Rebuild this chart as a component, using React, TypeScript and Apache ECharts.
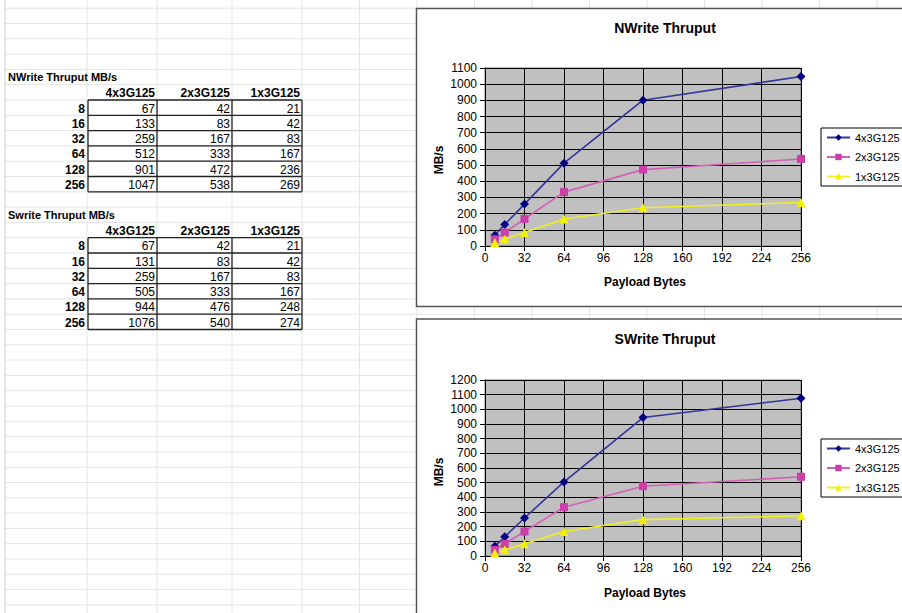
import React, { useEffect, useRef } from "react";
import * as echarts from "echarts";

// ---- data ----
const payloadBytes = [8, 16, 32, 64, 128, 256];
const seriesNames = ["4x3G125", "2x3G125", "1x3G125"];
const nwrite4x = [67, 133, 259, 512, 901, 1047];
const nwrite2x = [42, 83, 167, 333, 472, 538];
const nwrite1x = [21, 42, 83, 167, 236, 269];
const swrite4x = [67, 131, 259, 505, 944, 1076];
const swrite2x = [42, 83, 167, 333, 476, 540];
const swrite1x = [21, 42, 83, 167, 248, 274];
const nwriteTitle = "NWrite Thruput MB/s";
const swriteTitle = "Swrite Thruput MB/s";
const chart1Title = "NWrite Thruput";
const chart2Title = "SWrite Thruput";
const xName = "Payload Bytes";
const yName = "MB/s";

const FONT = "'Liberation Sans', Arial, sans-serif";

const rowTop = (k: number) => 8.2 + 15.3 * k;
const colXs = [5, 87, 157, 232, 302, 359.5, 417, 474.5, 532, 589.5, 647, 704.5, 762, 819.5, 877];

function txt(text: string, x: number, y: number, size: number, bold: boolean, align: string, rotation = 0) {
  return {
    type: "text",
    z: 5,
    x,
    y,
    rotation,
    style: {
      text,
      x: 0,
      y: 0,
      fill: "#000",
      font: `${bold ? "bold " : ""}${size}px ${FONT}`,
      textAlign: align,
      align,
      textVerticalAlign: "middle",
      verticalAlign: "middle",
    },
  };
}

function buildTable(title: string, startRow: number, cols: number[][]) {
  const els: any[] = [];
  const rightX = [85, 155, 230, 300];
  els.push(txt(title, 8, rowTop(startRow) + 8, 11, true, "left"));
  seriesNames.forEach((n, i) => els.push(txt(n, rightX[i + 1], rowTop(startRow + 1) + 8.5, 12, true, "right")));
  payloadBytes.forEach((p, r) => {
    const y = rowTop(startRow + 2 + r) + 8.5;
    els.push(txt(String(p), rightX[0], y, 12, true, "right"));
    cols.forEach((c, i) => els.push(txt(String(c[r]), rightX[i + 1], y, 12, false, "right")));
  });
  const top = rowTop(startRow + 2);
  const bottom = rowTop(startRow + 8);
  for (let k = 0; k <= 6; k++) {
    const y = rowTop(startRow + 2 + k);
    els.push({ type: "line", z: 4, shape: { x1: 88, y1: y, x2: 302, y2: y }, style: { stroke: "#222", lineWidth: 1.3 } });
  }
  [88, 157, 232, 302].forEach((x) =>
    els.push({ type: "line", z: 4, shape: { x1: x, y1: top, x2: x, y2: bottom }, style: { stroke: "#222", lineWidth: 1.3 } })
  );
  return els;
}

export default function App() {
  const ref = useRef<HTMLDivElement>(null);
  useEffect(() => {
    document.body.style.margin = "0";
    const chart = echarts.init(ref.current!, undefined, { renderer: "svg" });

    const bg: any[] = [];
    for (let k = -1; k <= 40; k++) {
      const y = rowTop(k);
      bg.push({ type: "line", z: -10, shape: { x1: 5, y1: y, x2: 902, y2: y }, style: { stroke: "#e4e4e4", lineWidth: 1 } });
    }
    colXs.forEach((x, i) =>
      bg.push({ type: "line", z: -10, shape: { x1: x, y1: 0, x2: x, y2: 613 }, style: { stroke: i === 0 ? "#cfcfcf" : "#e4e4e4", lineWidth: 1 } })
    );

    const boxes = [
      { type: "rect", z: -5, shape: { x: 416.5, y: 8.5, width: 500, height: 298 }, style: { fill: "#fff", stroke: "#555", lineWidth: 1.5 } },
      { type: "rect", z: -5, shape: { x: 416.5, y: 319, width: 500, height: 310 }, style: { fill: "#fff", stroke: "#555", lineWidth: 1.5 } },
    ];

    const labels: any[] = [
      txt(chart1Title, 665, 28, 14, true, "center"),
      txt(chart2Title, 665, 339, 14, true, "center"),
      txt(xName, 645, 282, 12, true, "center"),
      txt(xName, 645, 593, 12, true, "center"),
      txt(yName, 439, 160, 12, true, "center", Math.PI / 2),
      txt(yName, 439, 472, 12, true, "center", Math.PI / 2),
    ];

    const tables = [
      ...buildTable(nwriteTitle, 4, [nwrite4x, nwrite2x, nwrite1x]),
      ...buildTable(swriteTitle, 13, [swrite4x, swrite2x, swrite1x]),
    ];

    const styles = [
      { symbol: "diamond", size: 9, item: "#000080", line: "#34349a" },
      { symbol: "rect", size: 8, item: "#cc3fa8", line: "#d35fb9" },
      { symbol: "triangle", size: 9, item: "#f2f200", line: "#f0f020" },
    ];
    const mk = (name: string, vals: number[], si: number, gi: number) => ({
      type: "line",
      name,
      xAxisIndex: gi,
      yAxisIndex: gi,
      data: payloadBytes.map((p, i) => [p, vals[i]]),
      symbol: styles[si].symbol,
      symbolSize: styles[si].size,
      showSymbol: true,
      itemStyle: { color: styles[si].item },
      lineStyle: { color: styles[si].line, width: 1.6 },
      z: 3,
    });

    const plain = (v: number) => String(v);
    const xAxis = (gi: number) => ({
      type: "value",
      gridIndex: gi,
      min: 0,
      max: 256,
      interval: 32,
      axisLine: { show: true, onZero: false, lineStyle: { color: "#000" } },
      axisTick: { show: true, length: 5, lineStyle: { color: "#000" } },
      axisLabel: { color: "#000", fontSize: 12, fontFamily: FONT, margin: 6, formatter: plain },
      splitLine: { show: true, lineStyle: { color: "#000", width: 1 } },
    });
    const yAxis = (gi: number, max: number) => ({
      type: "value",
      gridIndex: gi,
      min: 0,
      max,
      interval: 100,
      axisLine: { show: true, lineStyle: { color: "#000" } },
      axisTick: { show: true, length: 5, lineStyle: { color: "#000" } },
      axisLabel: { color: "#000", fontSize: 12, fontFamily: FONT, margin: 8, formatter: plain },
      splitLine: { show: true, lineStyle: { color: "#000", width: 1 } },
    });

    const legend = (top: number) => ({
      orient: "vertical",
      left: 821,
      top,
      data: seriesNames,
      itemGap: 8.5,
      itemWidth: 23,
      itemHeight: 8,
      padding: [4, 3, 4, 5],
      borderColor: "#000",
      borderWidth: 1,
      backgroundColor: "#fff",
      textStyle: { color: "#000", fontSize: 11, fontFamily: FONT },
      selectedMode: false,
    });

    chart.setOption({
      animation: false,
      backgroundColor: "#fff",
      textStyle: { fontFamily: FONT },
      grid: [
        { left: 485, top: 68, width: 316, height: 178, show: true, backgroundColor: "#c0c0c0", borderColor: "#808080", borderWidth: 1 },
        { left: 485, top: 380, width: 316, height: 176, show: true, backgroundColor: "#c0c0c0", borderColor: "#808080", borderWidth: 1 },
      ],
      xAxis: [xAxis(0), xAxis(1)],
      yAxis: [yAxis(0, 1100), yAxis(1, 1200)],
      legend: [legend(128), legend(439)],
      series: [
        mk(seriesNames[0], nwrite4x, 0, 0),
        mk(seriesNames[1], nwrite2x, 1, 0),
        mk(seriesNames[2], nwrite1x, 2, 0),
        mk(seriesNames[0], swrite4x, 0, 1),
        mk(seriesNames[1], swrite2x, 1, 1),
        mk(seriesNames[2], swrite1x, 2, 1),
      ],
      graphic: [...bg, ...boxes, ...labels, ...tables],
    });
    return () => chart.dispose();
  }, []);
  return <div ref={ref} style={{ position: "absolute", left: 0, top: 0, width: 902, height: 613 }} />;
}
